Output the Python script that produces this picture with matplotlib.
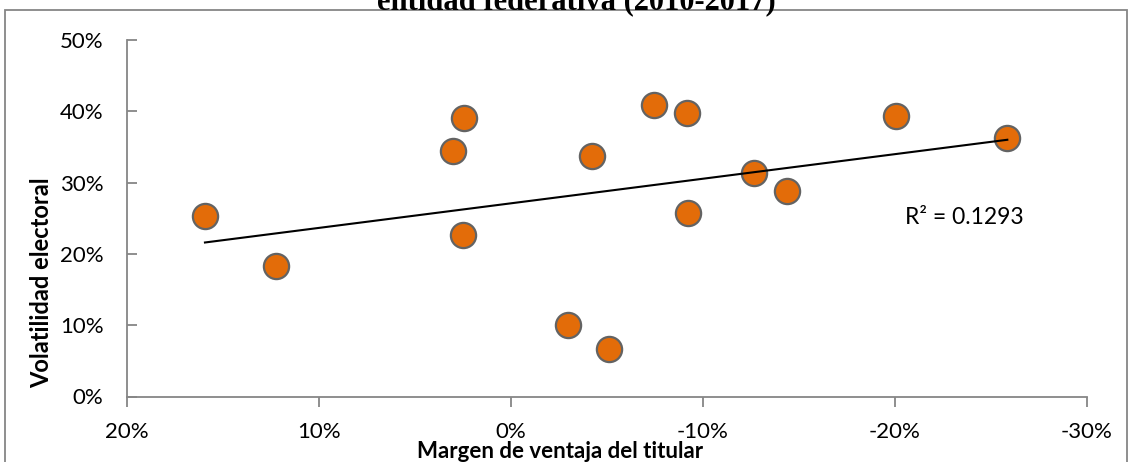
import numpy as np
import matplotlib
matplotlib.use("Agg")
import matplotlib.pyplot as plt
from matplotlib.patches import Rectangle
from matplotlib.ticker import FuncFormatter

# Data (percent)
margen = [15.94, 12.24, 2.43, 3.0, 2.5, -4.2, -2.98, -5.12, -7.46, -9.18, -9.24, -12.67, -14.4, -20.04, -25.85]
volatilidad = [25.3, 18.3, 39.1, 34.4, 22.6, 33.8, 10.0, 6.6, 40.9, 39.7, 25.7, 31.4, 28.8, 39.4, 36.3]
x_ticks = [20, 10, 0, -10, -20, -30]
y_ticks = [0, 10, 20, 30, 40, 50]
title_text = "entidad federativa (2010-2017)"
x_label = "Margen de ventaja del titular"
y_label = "Volatilidad electoral"
r2_text = "R² = 0.1293"

W, H = 1132, 462
fig = plt.figure(figsize=(W / 100, H / 100), dpi=100)
fig.patch.set_facecolor("white")

# outer chart border
fig.patches.append(Rectangle((5 / W, -0.2), (1127 - 5) / W, 1.2 - 10 / H,
                             transform=fig.transFigure, fill=False,
                             edgecolor="#868686", linewidth=1.3, zorder=0))

left, right = 127 / W, 1087 / W
bottom, top = 1 - 396.5 / H, 1 - 40 / H
ax = fig.add_axes([left, bottom, right - left, top - bottom])
ax.set_xlim(20, -30)
ax.set_ylim(0, 50)

grey = "#868686"
for s in ["top", "right"]:
    ax.spines[s].set_visible(False)
for s in ["left", "bottom"]:
    ax.spines[s].set_color(grey)
    ax.spines[s].set_linewidth(1.3)

ax.set_xticks(x_ticks)
ax.set_yticks(y_ticks)
fmt = FuncFormatter(lambda v, p: f"{v:.0f}%")
ax.xaxis.set_major_formatter(fmt)
ax.yaxis.set_major_formatter(fmt)
ax.tick_params(axis="x", direction="out", length=7, width=1.3, color=grey,
               labelsize=16, pad=11, labelcolor="black")
ax.tick_params(axis="y", direction="in", length=7, width=1.3, color=grey,
               labelsize=16, pad=17, labelcolor="black")
for lab in ax.get_xticklabels() + ax.get_yticklabels():
    lab.set_family("Lato")

ax.scatter(margen, volatilidad, s=330, color="#E36C09", edgecolors="#636363",
           linewidths=1.6, zorder=3, clip_on=False)

# linear trend line
xa = np.array(margen)
ya = np.array(volatilidad)
m, b = np.polyfit(xa, ya, 1)
xs = np.array([xa.max(), xa.min()])
ax.plot(xs, m * xs + b, color="black", linewidth=1.5, zorder=4)

ax.text(905 / W, 1 - 218 / H, r2_text, transform=fig.transFigure,
        fontsize=16.5, family="Lato", va="center", ha="left")

fig.text(42 / W, 1 - 283 / H, y_label, rotation=90, fontsize=17,
         fontweight="bold", family="Lato", ha="center", va="center")
fig.text(560 / W, 1 - 451 / H, x_label, fontsize=16, fontweight="bold",
         family="Lato", ha="center", va="center")

fig.text(576 / W, 1 - 9 / H, title_text, fontsize=22, fontweight="bold",
         family="Liberation Serif", ha="center", va="baseline")

fig.savefig("out.png", dpi=100, facecolor="white")
